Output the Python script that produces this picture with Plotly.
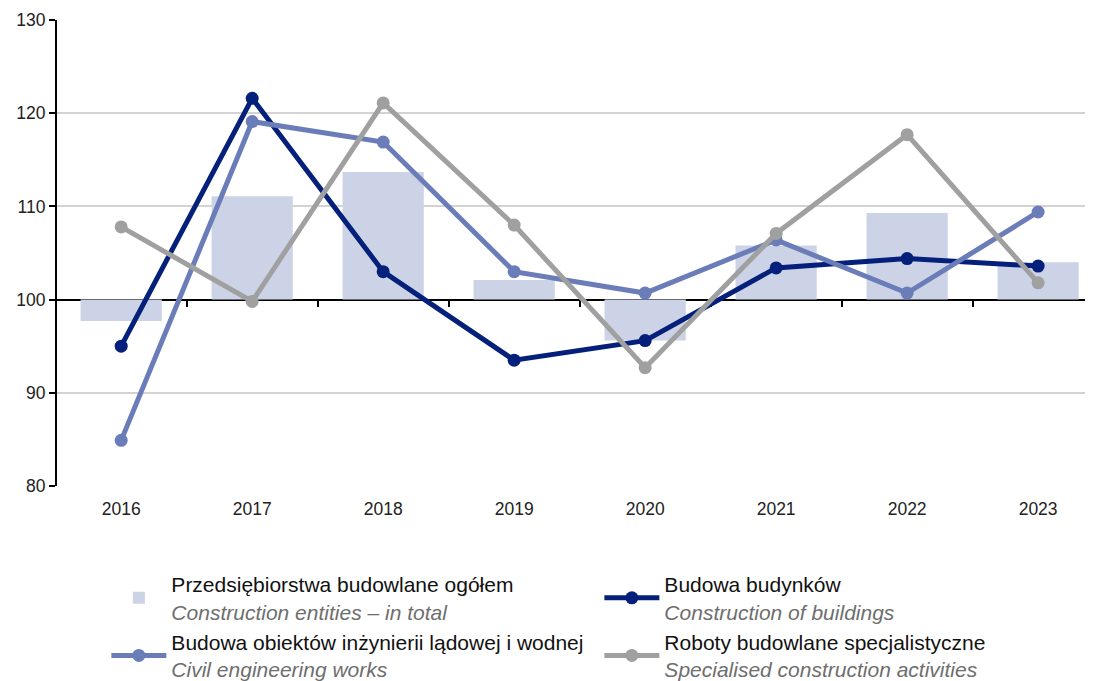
import plotly.graph_objects as go

years = ["2016", "2017", "2018", "2019", "2020", "2021", "2022", "2023"]
total = [97.7, 111.1, 113.7, 102.1, 95.6, 105.8, 109.3, 104.0]
buildings = [95.0, 121.6, 103.0, 93.5, 95.6, 103.4, 104.4, 103.6]
civil = [84.9, 119.1, 116.9, 103.0, 100.7, 106.4, 100.7, 109.4]
special = [107.8, 99.8, 121.1, 108.0, 92.7, 107.1, 117.7, 101.8]

names_pl = ["Przedsiębiorstwa budowlane ogółem", "Budowa budynków",
            "Budowa obiektów inżynierii lądowej i wodnej", "Roboty budowlane specjalistyczne"]
names_en = ["Construction entities – in total", "Construction of buildings",
            "Civil engineering works", "Specialised construction activities"]

def lbl(i):
    return f"{names_pl[i]}<br><i><span style='color:#6e6e6e'>{names_en[i]}</span></i>"

xs = list(range(len(years)))
BASE = 100

fig = go.Figure()
fig.add_trace(go.Bar(x=xs, y=[v - BASE for v in total], base=BASE, width=0.62,
                     marker=dict(color="#ccd3e6", line=dict(width=0)), name=lbl(0)))
fig.add_trace(go.Scatter(x=xs, y=buildings, mode="lines+markers", name=lbl(1),
                         line=dict(color="#04207a", width=5), marker=dict(size=13, color="#04207a")))
fig.add_trace(go.Scatter(x=xs, y=civil, mode="lines+markers", name=lbl(2),
                         line=dict(color="#6b7db8", width=5), marker=dict(size=13, color="#6b7db8")))
fig.add_trace(go.Scatter(x=xs, y=special, mode="lines+markers", name=lbl(3),
                         line=dict(color="#a0a0a0", width=5), marker=dict(size=13, color="#a0a0a0")))
# invisible trace to anchor the baseline axis
fig.add_trace(go.Scatter(x=xs, y=[BASE] * len(xs), xaxis="x2", mode="lines",
                         line=dict(width=0), showlegend=False, hoverinfo="skip"))

xr = [-0.49, 7.48]
fig.update_layout(
    width=1093, height=681,
    margin=dict(l=49, r=0, t=12, b=203, autoexpand=False),
    plot_bgcolor="white", paper_bgcolor="white",
    font=dict(family="Liberation Sans, Arial, sans-serif", size=17.5, color="#222222"),
    showlegend=True,
    xaxis=dict(range=xr, tickvals=xs, ticktext=years, showgrid=False, showline=False,
               zeroline=False, ticks="outside", ticklen=7, tickcolor="rgba(0,0,0,0)",
               tickfont=dict(size=17.5), automargin=False),
    xaxis2=dict(range=xr, overlaying="x", anchor="free", position=0.4, showline=True,
                linecolor="black", linewidth=2, ticks="outside", ticklen=6, tickwidth=2,
                tickcolor="black", tickvals=[i + 0.5 for i in xs[:-1]], showticklabels=False,
                showgrid=False, zeroline=False, layer="below traces", side="bottom",
                automargin=False),
    yaxis=dict(range=[80, 130], dtick=10, showgrid=True, gridcolor="#d3d3d3", gridwidth=1.5,
               showline=True, linecolor="black", linewidth=2, ticks="outside", ticklen=6,
               tickwidth=2, tickcolor="black", zeroline=False, tickfont=dict(size=17.5),
               layer="below traces", automargin=False),
    legend=dict(orientation="h", x=0.09, xanchor="left", xref="container",
                y=1 - 556 / 681, yanchor="top", yref="container",
                entrywidth=423, entrywidthmode="pixels", itemwidth=55,
                font=dict(size=21, color="#111111"), traceorder="normal",
                bgcolor="rgba(0,0,0,0)"),
)

fig.write_html("out.html")
